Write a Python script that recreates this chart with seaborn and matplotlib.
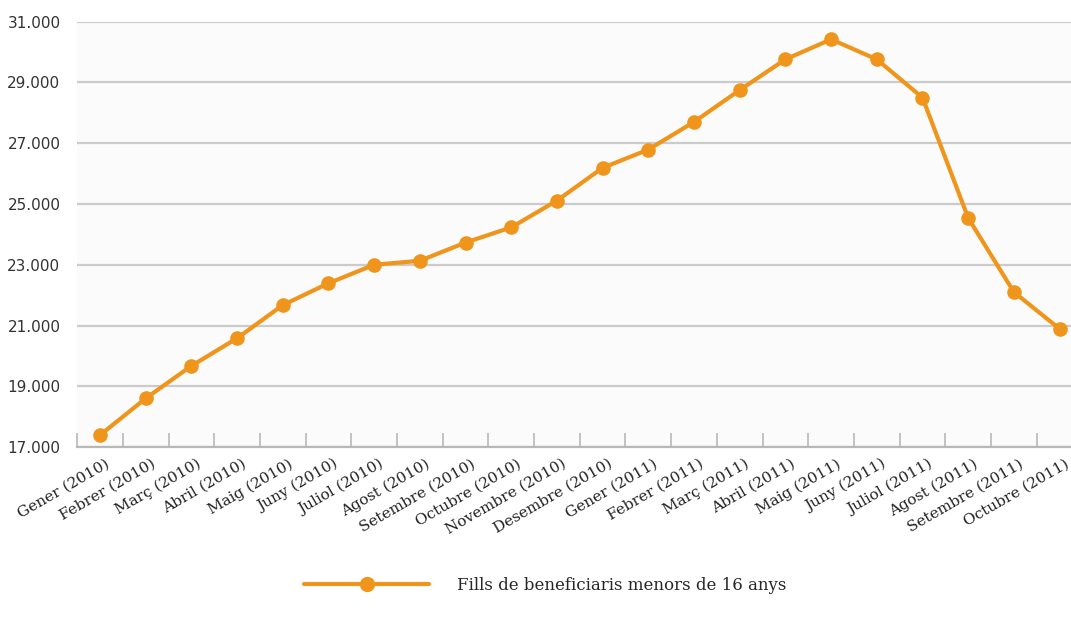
import numpy as np
import pandas as pd
import matplotlib
matplotlib.use("Agg")
import matplotlib.pyplot as plt
import seaborn as sns
from matplotlib.ticker import FuncFormatter, FixedLocator
from matplotlib.lines import Line2D
from matplotlib.transforms import ScaledTranslation

months = [
    "Gener (2010)", "Febrer (2010)", "Març (2010)", "Abril (2010)", "Maig (2010)",
    "Juny (2010)", "Juliol (2010)", "Agost (2010)", "Setembre (2010)", "Octubre (2010)",
    "Novembre (2010)", "Desembre (2010)", "Gener (2011)", "Febrer (2011)", "Març (2011)",
    "Abril (2011)", "Maig (2011)", "Juny (2011)", "Juliol (2011)", "Agost (2011)",
    "Setembre (2011)", "Octubre (2011)",
]
children = [
    17390, 18600, 19670, 20580, 21670, 22390, 23000, 23130, 23730, 24230, 25110,
    26190, 26790, 27700, 28750, 29760, 30420, 29760, 28500, 24540, 22100, 20890,
]
series_label = "Fills de beneficiaris menors de 16 anys"
y_ticks = [17000, 19000, 21000, 23000, 25000, 27000, 29000, 31000]

orange = "#EF951B"
grid_grey = "#cbcbcb"

sns.set_theme(style="white")
plt.rcParams["font.family"] = ["DejaVu Sans"]

df = pd.DataFrame({"pos": np.arange(len(months)), "value": children})

fig = plt.figure(figsize=(10.71, 6.2), dpi=100)
fig.patch.set_facecolor("white")
ax = fig.add_axes([0.072, 0.279, 0.928, 0.686])
ax.set_facecolor("#fbfbfb")

sns.lineplot(data=df, x="pos", y="value", ax=ax, color=orange, linewidth=3.0,
             marker="o", markersize=10.5, markeredgewidth=0, sort=False, zorder=3)

# category labels on the centres, tick marks on the boundaries
ax.set_xticks(np.arange(len(months)))
ax.set_xticklabels(months, rotation=30, ha="right", rotation_mode="anchor",
                   family="DejaVu Serif", fontsize=11, color="#222222")
ax.tick_params(axis="x", which="major", length=0, pad=7)
ax.set_xticks(np.arange(len(months) + 1) - 0.5, minor=True)
ax.tick_params(axis="x", which="minor", direction="in", length=10, width=1.2,
               color="#b8b8b8", bottom=True)
shift = ScaledTranslation(5 / 100, 0, fig.dpi_scale_trans)
for lab in ax.get_xticklabels():
    lab.set_transform(lab.get_transform() + shift)

ax.set_ylim(17000, 31000)
ax.set_xlim(-0.5, 21.25)
ax.yaxis.set_major_locator(FixedLocator(y_ticks))
ax.yaxis.set_major_formatter(FuncFormatter(lambda v, _: f"{int(v):,}".replace(",", ".")))
ax.grid(axis="y", color=grid_grey, linewidth=1.6, zorder=0)
ax.grid(axis="x", visible=False)

for s in ["left", "right", "top"]:
    ax.spines[s].set_visible(False)
ax.spines["bottom"].set_color("#b8b8b8")
ax.spines["bottom"].set_linewidth(1.6)

ax.tick_params(axis="y", length=0, pad=12, labelsize=11, labelcolor="#333333")
ax.set_xlabel("")
ax.set_ylabel("")

handle = Line2D([], [], color=orange, linewidth=3.0, marker="o", markersize=11,
                markeredgewidth=0)
fig.legend([handle], [series_label], loc="center left",
           bbox_to_anchor=(304 / 1071, 1 - 585 / 620), frameon=False,
           handlelength=7.5, handletextpad=1.7, borderpad=0, borderaxespad=0,
           prop={"family": "DejaVu Serif", "size": 12})

fig.savefig("out.png", dpi=100, facecolor=fig.get_facecolor())
